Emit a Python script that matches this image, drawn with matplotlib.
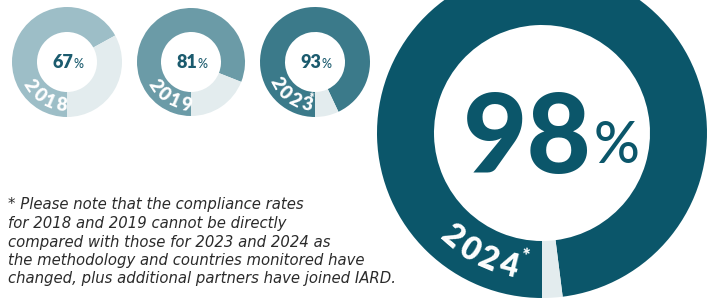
import numpy as np
import matplotlib.pyplot as plt
from matplotlib import font_manager as fm
from matplotlib.font_manager import FontProperties
from matplotlib.textpath import TextToPath

# compliance rates by monitoring year
years = ["2018", "2019", "2023", "2024"]
rates = [67, 81, 93, 98]
year_marks = ["", "", "*", "*"]
ring_colors = ["#9dbec7", "#6b9ba7", "#3b7a8a", "#0b566a"]
rest_color = "#e3ecee"
label_color = "#1b5b6e"

note_lines = [
    "* Please note that the compliance rates",
    "for 2018 and 2019 cannot be directly",
    "compared with those for 2023 and 2024 as",
    "the methodology and countries monitored have",
    "changed, plus additional partners have joined IARD.",
]

W, H = 716, 300

# pick a geometric-ish sans that is actually installed, and pin the exact
# upright file for each weight so findfont can't wander off to an italic
installed = {f.name for f in fm.fontManager.ttflist}
FONT = next((n for n in ["Lato", "Open Sans", "Roboto", "Inter"] if n in installed), "DejaVu Sans")


def weight_num(w):
    return w if isinstance(w, (int, float)) else fm.weight_dict.get(w, 400)


def font(size, weight):
    cands = [f for f in fm.fontManager.ttflist
             if f.name == FONT and f.style == "normal"
             and "italic" not in f.fname.lower() and "oblique" not in f.fname.lower()]
    if not cands:
        return FontProperties(family=FONT, size=size, weight=weight)
    best = min(cands, key=lambda f: (abs(weight_num(f.weight) - weight), f.fname))
    return FontProperties(fname=best.fname, size=size)


# donut layout in pixel coords (y measured from top)
centers = [(67, 62), (191, 62), (315, 62), (542, 133)]
outer_r = [55, 54, 55, 165]
inner_r = [30, 30, 30, 108]
year_mid_angle = [238, 238, 234, 242.5]
mark_angle = [None, None, 264, 262]

fig = plt.figure(figsize=(W / 100, H / 100), dpi=100)
ax = fig.add_axes([0, 0, 1, 1])

t2p = TextToPath()


def arc_text(s, cx, cy, r, mid_deg, fp, spacing):
    # place characters one by one along the ring, reading counterclockwise
    widths = [t2p.get_text_width_height_descent(c, fp, ismath=False)[0] * 100 / 72 + spacing
              for c in s]
    total = sum(widths)
    ang = mid_deg - np.degrees(total / 2 / r)
    for c, w in zip(s, widths):
        a = ang + np.degrees(w / 2 / r)
        x = cx + r * np.cos(np.radians(a))
        y = cy + r * np.sin(np.radians(a))
        ax.text(x, y, c, rotation=a - 270, rotation_mode="anchor",
                ha="center", va="center", color="white", fontproperties=fp)
        ang += np.degrees(w / r)
    return ang


for i in range(len(years)):
    cx, cy = centers[i][0], H - centers[i][1]
    ax.pie([rates[i], 100 - rates[i]], colors=[ring_colors[i], rest_color],
           startangle=-90, counterclock=False, center=(cx, cy), radius=outer_r[i],
           wedgeprops=dict(width=outer_r[i] - inner_r[i], linewidth=0), frame=True)

    big = i == 3
    mid_r = (outer_r[i] + inner_r[i]) / 2
    if big:
        arc_text(years[i], cx, cy, mid_r + 1, year_mid_angle[i], font(23, 800), 3)
    else:
        arc_text(years[i], cx, cy, mid_r + 1, year_mid_angle[i], font(13.5, 800), 1.8)
    if year_marks[i]:
        a = mark_angle[i]
        rr = mid_r - (12 if big else 6)
        ax.text(cx + rr * np.cos(np.radians(a)), cy + rr * np.sin(np.radians(a)),
                year_marks[i], rotation=a - 270, rotation_mode="anchor",
                ha="center", va="center", color="white",
                fontproperties=font(14 if big else 9, 800))

    # percentage label in the middle
    if big:
        ax.text(cx + 50, cy - 40, str(rates[i]), ha="right", va="baseline",
                color=ring_colors[i], fontproperties=font(80, 900))
        ax.text(cx + 52, cy - 30, "%", ha="left", va="baseline",
                color=ring_colors[i], fontproperties=font(41, 500))
    else:
        ax.text(cx + 6, cy - 6, str(rates[i]), ha="right", va="baseline",
                color=label_color, fontproperties=font(13, 800))
        ax.text(cx + 7, cy - 6, "%", ha="left", va="baseline",
                color=label_color, fontproperties=font(9, 500))

for j, line in enumerate(note_lines):
    ax.text(8, H - (205 + 18.5 * j), line, ha="left", va="center",
            fontsize=10.7, style="italic", color="#2b2b2b",
            family="DejaVu Sans")

ax.set_xlim(0, W)
ax.set_ylim(0, H)
ax.set_aspect("equal")
ax.axis("off")

fig.savefig("out.png", dpi=100)
